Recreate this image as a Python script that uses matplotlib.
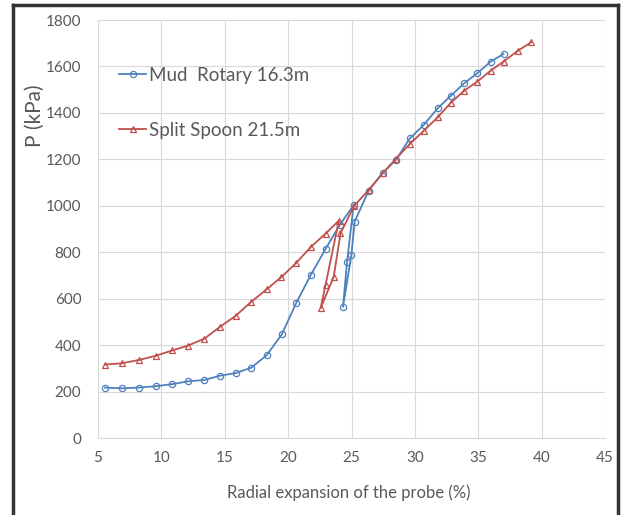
import matplotlib
matplotlib.use("Agg")
import matplotlib.pyplot as plt
from matplotlib.lines import Line2D

# Data
mud_x = [5.55, 6.86, 8.2, 9.55, 10.86, 12.1, 13.4, 14.6, 15.9, 17.1, 18.3, 19.5, 20.65,
         21.77, 22.95, 24.07, 25.17, 24.65, 24.33, 24.99, 25.25, 26.35, 27.47, 28.5, 29.6,
         30.7, 31.8, 32.84, 33.9, 34.93, 35.98, 37.0]
mud_p = [217, 214, 217, 223, 232, 244, 250, 268, 280, 303, 356, 446, 583,
         700, 814, 917, 1003, 759, 565, 788, 932, 1065, 1143, 1197, 1290,
         1348, 1420, 1474, 1528, 1571, 1621, 1654]

split_x = [5.55, 6.9, 8.24, 9.55, 10.86, 12.1, 13.4, 14.63, 15.88, 17.1, 18.3, 19.47, 20.6,
           21.82, 22.95, 24.0, 22.95, 22.56, 23.6, 24.13, 25.2, 26.35, 27.47, 28.5, 29.6,
           30.7, 31.8, 32.84, 33.9, 34.93, 35.98, 37.0, 38.1, 39.17]
split_p = [316, 322, 336, 354, 377, 398, 428, 479, 527, 587, 640, 693, 752,
           824, 880, 936, 659, 558, 695, 881, 999, 1068, 1140, 1202, 1266,
           1323, 1381, 1444, 1496, 1535, 1582, 1621, 1667, 1704]

series_labels = ["Mud  Rotary 16.3m", "Split Spoon 21.5m"]
x_ticks = [5, 10, 15, 20, 25, 30, 35, 40, 45]
y_ticks = [0, 200, 400, 600, 800, 1000, 1200, 1400, 1600, 1800]
x_label = "Radial expansion of the probe (%)"
y_label = "P (kPa)"

plt.rcParams['font.family'] = ['Lato', 'DejaVu Sans']

W, H = 622, 515
fig = plt.figure(figsize=(W / 100, H / 100), dpi=100)
ax = fig.add_axes([98 / W, 1 - 438 / H, (605 - 98) / W, (438 - 20) / H])

blue = '#4F81BD'
red = '#C0504D'
txt = '#595959'

ax.plot(mud_x, mud_p, color=blue, lw=1.3, marker='o', ms=4.5, mfc='none',
        mec=blue, mew=0.9, label=series_labels[0])
ax.plot(split_x, split_p, color=red, lw=1.3, marker='^', ms=4.5, mfc='none',
        mec=red, mew=0.9, label=series_labels[1])

ax.set_xlim(5, 45)
ax.set_ylim(0, 1800)
ax.set_xticks(x_ticks)
ax.set_yticks(y_ticks)
ax.grid(True, color='#D9D9D9', lw=0.8)
ax.set_axisbelow(True)
for s in ['top', 'right', 'left']:
    ax.spines[s].set_visible(False)
ax.spines['bottom'].set_color('#D9D9D9')
ax.tick_params(length=0, labelsize=11, colors=txt, pad=9)
ax.tick_params(axis='y', pad=12)

fig.text(349 / W, 1 - 493 / H, x_label, ha='center', va='center', fontsize=12, color=txt)
fig.text(35 / W, 1 - 116 / H, y_label, ha='center', va='center', rotation=90,
         fontsize=15, color=txt)

leg = ax.legend(loc='upper left', bbox_to_anchor=(0.0414, 0.8885), frameon=False,
                fontsize=13.5, labelspacing=2.05, handlelength=1.45, handletextpad=0.15,
                borderpad=0, borderaxespad=0)
for t in leg.get_texts():
    t.set_color(txt)

# figure frame (left, top, right)
for xs, ys in [([13 / W, 13 / W], [0, 1 - 5 / H]),
               ([13 / W, 618 / W], [1 - 5 / H, 1 - 5 / H]),
               ([618 / W, 618 / W], [0, 1 - 5 / H])]:
    fig.add_artist(Line2D(xs, ys, transform=fig.transFigure, color='#333333', lw=2.5))

fig.savefig('out.png', dpi=100)
